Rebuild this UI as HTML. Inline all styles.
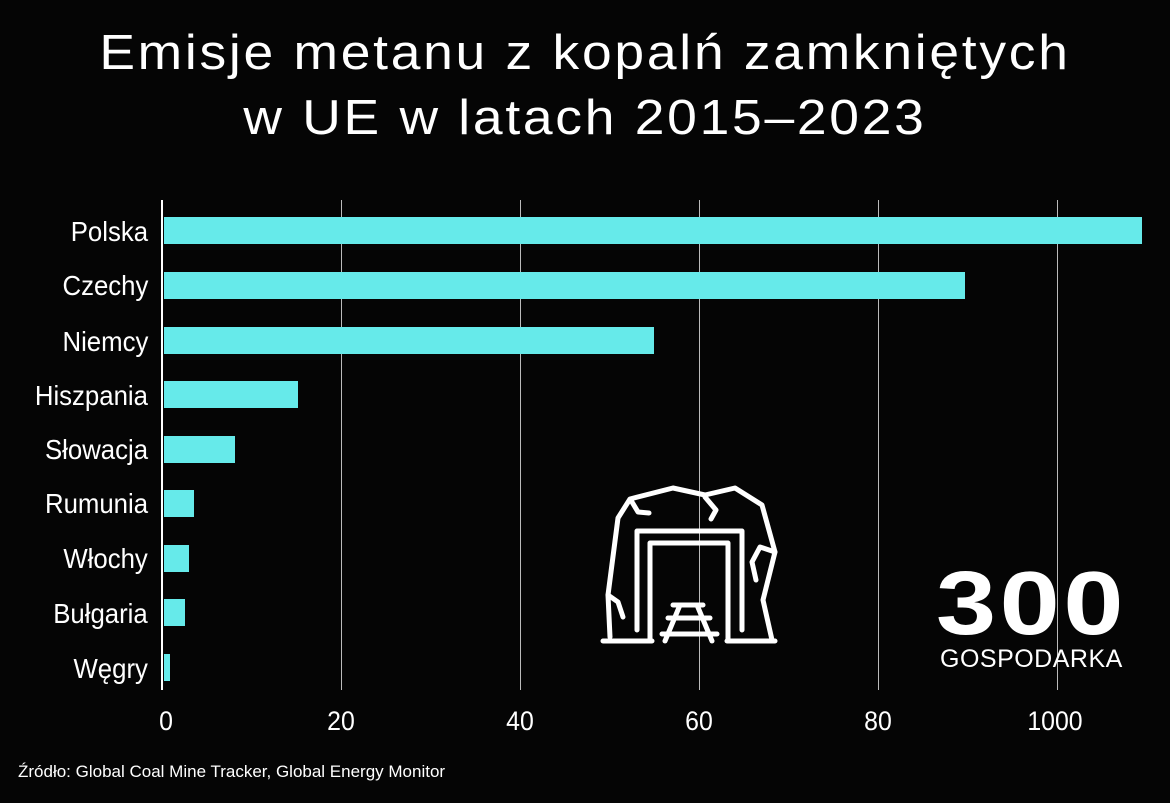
<!DOCTYPE html>
<html><head><meta charset="utf-8"><style>
body{margin:0;background:#050505;width:1170px;height:803px;overflow:hidden;position:relative;font-family:"Liberation Sans",sans-serif;color:#fff}
.t{position:absolute;left:0;width:1170px;text-align:center;font-size:49px;letter-spacing:2.5px;white-space:nowrap;transform:scaleX(1.09)}
.lab{position:absolute;right:1022px;font-size:28px;transform:scaleX(0.92);transform-origin:right center;white-space:nowrap}
.bar{position:absolute;left:164px;height:27px;background:#66eaea}
.grid{position:absolute;top:200px;height:490px;width:1px;background:#bbb}
.tk{position:absolute;top:706px;font-size:27px;transform:translateX(-50%) scaleX(0.92);white-space:nowrap}
</style></head><body>
<div class="t" style="top:25px">Emisje metanu z kopalń zamkniętych</div>
<div class="t" style="top:90px">w UE w latach 2015–2023</div>
<div class="grid" style="left:341px"></div>
<div class="grid" style="left:520px"></div>
<div class="grid" style="left:699px"></div>
<div class="grid" style="left:878px"></div>
<div class="grid" style="left:1057px"></div>
<div style="position:absolute;left:161px;top:200px;width:2px;height:490px;background:#fff"></div>
<div class="bar" style="top:217px;width:978px"></div>
<div class="bar" style="top:272px;width:801px"></div>
<div class="bar" style="top:327px;width:490px"></div>
<div class="bar" style="top:381px;width:134px"></div>
<div class="bar" style="top:436px;width:71px"></div>
<div class="bar" style="top:490px;width:30px"></div>
<div class="bar" style="top:545px;width:25px"></div>
<div class="bar" style="top:599px;width:21px"></div>
<div class="bar" style="top:654px;width:6px"></div>
<div class="lab" style="top:216px">Polska</div>
<div class="lab" style="top:270px">Czechy</div>
<div class="lab" style="top:326px">Niemcy</div>
<div class="lab" style="top:380px">Hiszpania</div>
<div class="lab" style="top:434px">Słowacja</div>
<div class="lab" style="top:488px">Rumunia</div>
<div class="lab" style="top:543px">Włochy</div>
<div class="lab" style="top:598px">Bułgaria</div>
<div class="lab" style="top:653px">Węgry</div>
<div class="tk" style="left:166px">0</div>
<div class="tk" style="left:341px">20</div>
<div class="tk" style="left:520px">40</div>
<div class="tk" style="left:699px">60</div>
<div class="tk" style="left:878px">80</div>
<div class="tk" style="left:1055px">1000</div>
<div style="position:absolute;left:18px;top:762px;font-size:17px">Źródło: Global Coal Mine Tracker, Global Energy Monitor</div>
<svg width="1170" height="803" style="position:absolute;left:0;top:0" fill="none" stroke="#fff" stroke-width="5" stroke-linecap="round" stroke-linejoin="round">
<polyline points="603,641 652,641"/>
<polyline points="727,641 775,641"/>
<polyline points="610,637 608,595 618,518 630,499 673,488 705,495 735,488 762,505 775,552 763,600 772,640"/>
<polyline points="637,630 637,531 742,531 742,630"/>
<polyline points="650,641 650,543 728,543 728,641"/>
<polyline points="632,502 638,512 649,513"/>
<polyline points="705,497 716,510 711,519"/>
<polyline points="775,552 760,547 752,562 756,580"/>
<polyline points="608,595 618,602 623,617"/>
<polyline points="673,605 703,605"/>
<polyline points="668,618 710,618"/>
<polyline points="662,634 717,634"/>
<polyline points="680,605 665,641"/>
<polyline points="697,605 712,641"/>
</svg>
<div style="position:absolute;left:936px;top:553px;font-size:90px;font-weight:bold;letter-spacing:3px;transform:scaleX(1.2);transform-origin:left">300</div>
<div style="position:absolute;left:940px;top:645px;font-size:25px;transform:scaleX(1.0);transform-origin:left;letter-spacing:0.5px">GOSPODARKA</div>
</body></html>
